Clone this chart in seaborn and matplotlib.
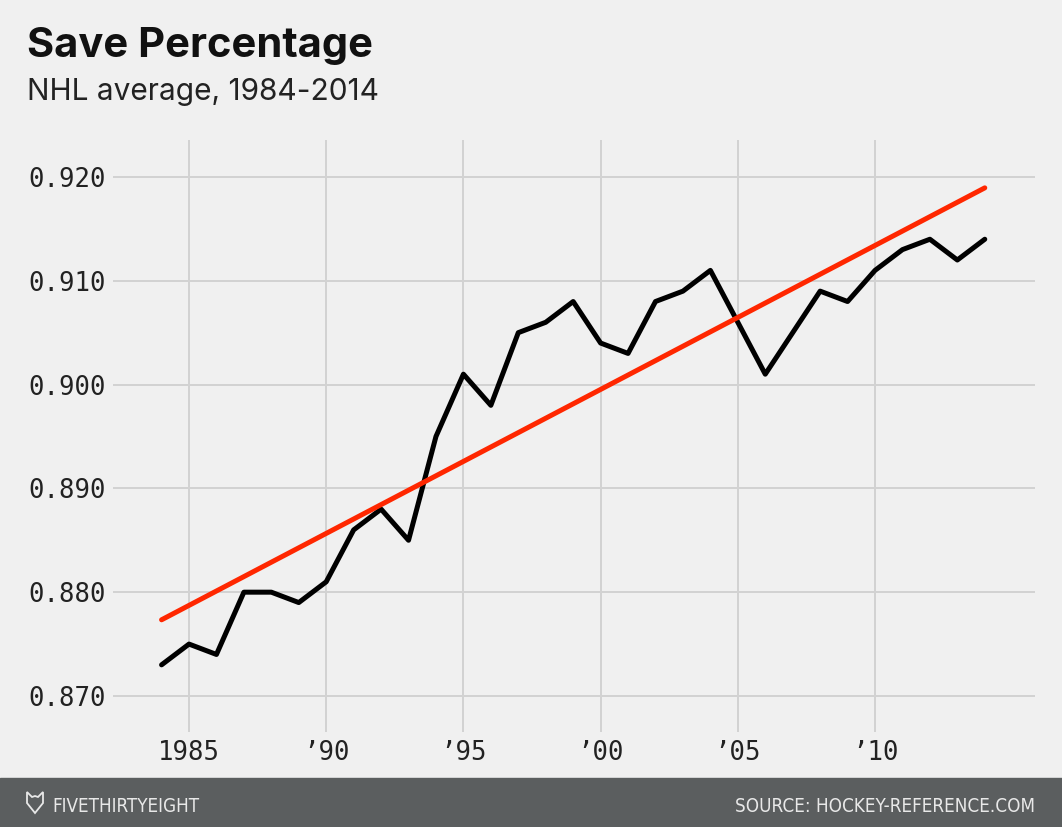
import numpy as np
import pandas as pd
import matplotlib
matplotlib.use("Agg")
import matplotlib.pyplot as plt
from matplotlib.patches import Rectangle, Polygon
import seaborn as sns

# ---- data ----
years = [1984, 1985, 1986, 1987, 1988, 1989, 1990, 1991, 1992, 1993, 1994,
         1995, 1996, 1997, 1998, 1999, 2000, 2001, 2002, 2003, 2004,
         2006, 2007, 2008, 2009, 2010, 2011, 2012, 2013, 2014]
save_pct = [0.873, 0.875, 0.874, 0.880, 0.880, 0.879, 0.881, 0.886, 0.888, 0.885, 0.895,
            0.901, 0.898, 0.905, 0.906, 0.908, 0.904, 0.903, 0.908, 0.909, 0.911,
            0.901, 0.905, 0.909, 0.908, 0.911, 0.913, 0.914, 0.912, 0.914]
xtick_years = [1985, 1990, 1995, 2000, 2005, 2010]
xtick_labels = ["1985", "\u201990", "\u201995", "\u201900", "\u201905", "\u201910"]
ytick_values = [0.870, 0.880, 0.890, 0.900, 0.910, 0.920]
ytick_labels = ["0.870", "0.880", "0.890", "0.900", "0.910", "0.920"]

title = "Save Percentage"
subtitle = "NHL average, 1984-2014"
brand = "FIVETHIRTYEIGHT"
source = "SOURCE: HOCKEY-REFERENCE.COM"

BG = "#f0f0f0"
GRID = "#d2d2d2"
RED = "#ff2700"

sns.set_theme(style="whitegrid", rc={
    "axes.facecolor": BG, "figure.facecolor": BG,
    "grid.color": GRID, "grid.linewidth": 1.4,
})
plt.rcParams["font.family"] = ["Inter", "DejaVu Sans"]

W, H = 1062, 827
fig = plt.figure(figsize=(W / 100, H / 100), dpi=100, facecolor=BG)
ax = fig.add_axes([113 / W, 95 / H, 922 / W, 592 / H])
ax.set_facecolor(BG)

df = pd.DataFrame({"year": years, "save_pct": save_pct})
sns.lineplot(data=df, x="year", y="save_pct", color="black", lw=3.6, ax=ax,
             zorder=3)
sns.regplot(data=df, x="year", y="save_pct", ci=None, scatter=False,
            truncate=True, ax=ax,
            line_kws=dict(color=RED, lw=3.6, solid_capstyle="round", zorder=4))

ax.set_xlim(1982.23, 2015.83)
ax.set_ylim(0.86653, 0.92356)
ax.set_xticks(xtick_years)
ax.set_xticklabels(xtick_labels)
ax.set_yticks(ytick_values)
ax.set_yticklabels(ytick_labels)
ax.set_xlabel("")
ax.set_ylabel("")
for s in ax.spines.values():
    s.set_visible(False)
ax.tick_params(axis="both", length=0, colors="#222222", labelsize=18.5)
ax.tick_params(axis="y", pad=5)
ax.tick_params(axis="x", pad=6)
for lab in ax.get_xticklabels() + ax.get_yticklabels():
    lab.set_fontfamily("DejaVu Sans Mono")
ax.grid(True, color=GRID, lw=1.4)

# titles
fig.text(27 / W, 1 - 57 / H, title, fontsize=30, fontweight="bold",
         color="#111111", va="baseline", ha="left")
fig.text(27 / W, 1 - 100 / H, subtitle, fontsize=21.5, color="#222222",
         va="baseline", ha="left")

# footer
fig.add_artist(Rectangle((0, 0), 1, 49 / H, transform=fig.transFigure,
                         color="#5b5e5f", zorder=0))
pts = [(27, 792), (32, 797), (35, 796), (38, 797), (43, 792), (43, 803),
       (35, 813), (27, 803)]
fig.add_artist(Polygon([(x / W, 1 - y / H) for x, y in pts], closed=True,
                       transform=fig.transFigure, fill=False,
                       edgecolor="#e8e8e8", lw=1.3))
fig.text(52 / W, 15 / H, brand, fontsize=13.5, color="#e8e8e8",
         family="DejaVu Sans", fontstretch="condensed", va="baseline", ha="left")
fig.text(1035 / W, 15 / H, source, fontsize=13.5, color="#e8e8e8",
         family="DejaVu Sans", fontstretch="condensed", va="baseline", ha="right")

fig.savefig("out.png", dpi=100, facecolor=BG)
